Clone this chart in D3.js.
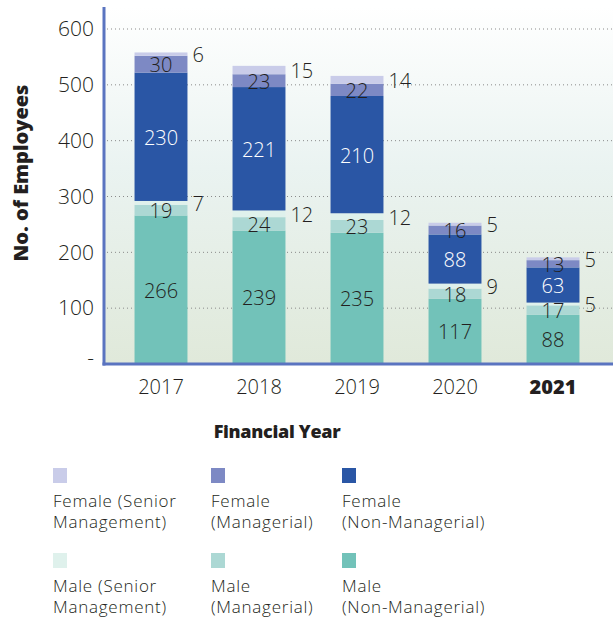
<!DOCTYPE html>
<html>
<head>
<meta charset="utf-8">
<script src="https://cdn.jsdelivr.net/npm/d3@7"></script>
<style>
  body { margin: 0; background: #fff; }
  text { font-family: "Open Sans", sans-serif; fill: #231f20; }
</style>
</head>
<body>
<script>
var years = ["2017", "2018", "2019", "2020", "2021"];
var maleNonManagerial = [266, 239, 235, 117, 88];
var maleManagerial = [19, 24, 23, 18, 17];
var maleSenior = [7, 12, 12, 9, 5];
var femaleNonManagerial = [230, 221, 210, 88, 63];
var femaleManagerial = [30, 23, 22, 16, 13];
var femaleSenior = [6, 15, 14, 5, 5];
var yTicks = [0, 100, 200, 300, 400, 500, 600];

// bottom to top
var series = [
  {key: "mnm", name: ["Male", "(Non-Managerial)"], values: maleNonManagerial, color: "#72c2b9", label: "in"},
  {key: "mm", name: ["Male", "(Managerial)"], values: maleManagerial, color: "#acd8d4", label: "in"},
  {key: "ms", name: ["Male (Senior", "Management)"], values: maleSenior, color: "#dff1ec", label: "out"},
  {key: "fnm", name: ["Female", "(Non-Managerial)"], values: femaleNonManagerial, color: "#2a56a5", label: "in", white: true},
  {key: "fm", name: ["Female", "(Managerial)"], values: femaleManagerial, color: "#7d89c4", label: "in"},
  {key: "fs", name: ["Female (Senior", "Management)"], values: femaleSenior, color: "#c9cce9", label: "out"}
];

var W = 613, H = 619;
var plot = {left: 104, right: 613, top: 7, bottom: 364};

var rows = years.map(function(y, i) {
  var r = {year: y};
  series.forEach(function(s) { r[s.key] = s.values[i]; });
  return r;
});

var stacked = d3.stack().keys(series.map(function(s) { return s.key; }))(rows);

var x = d3.scaleBand().domain(years).range([112, 602]).paddingInner(0.46).paddingOuter(0.23);
var y = d3.scaleLinear().domain([0, 600]).range([plot.bottom, 29]);

var svg = d3.select("body").append("svg")
  .attr("width", W)
  .attr("height", H);

var grad = svg.append("defs").append("linearGradient")
  .attr("id", "bg")
  .attr("x1", 0).attr("y1", 0).attr("x2", 0).attr("y2", 1);
grad.append("stop").attr("offset", "0%").attr("stop-color", "#ffffff");
grad.append("stop").attr("offset", "45%").attr("stop-color", "#eaf3f1");
grad.append("stop").attr("offset", "100%").attr("stop-color", "#e0e9da");

svg.append("rect")
  .attr("x", plot.left)
  .attr("y", plot.top)
  .attr("width", plot.right - plot.left)
  .attr("height", plot.bottom - plot.top)
  .attr("fill", "url(#bg)");

// dotted gridlines
svg.append("g")
  .selectAll("line")
  .data(yTicks.slice(1))
  .join("line")
  .attr("x1", plot.left + 3)
  .attr("x2", plot.right)
  .attr("y1", function(d) { return y(d); })
  .attr("y2", function(d) { return y(d); })
  .attr("stroke", "#8a8a8a")
  .attr("stroke-width", 1)
  .attr("stroke-dasharray", "1,3");

// bars
var layer = svg.append("g")
  .selectAll("g")
  .data(stacked)
  .join("g")
  .attr("fill", function(d, i) { return series[i].color; });

layer.selectAll("rect")
  .data(function(d) { return d; })
  .join("rect")
  .attr("x", function(d) { return x(d.data.year); })
  .attr("width", x.bandwidth())
  .attr("y", function(d) { return y(d[1]); })
  .attr("height", function(d) { return y(d[0]) - y(d[1]); });

// value labels
stacked.forEach(function(st, i) {
  var s = series[i];
  svg.append("g")
    .selectAll("text")
    .data(st)
    .join("text")
    .attr("x", function(d) {
      return s.label === "in" ? x(d.data.year) + x.bandwidth() / 2 : x(d.data.year) + x.bandwidth() + 5;
    })
    .attr("y", function(d) { return y((d[0] + d[1]) / 2); })
    .attr("dy", "0.4em")
    .attr("text-anchor", s.label === "in" ? "middle" : "start")
    .style("font-size", "20px")
    .style("font-weight", 300)
    .style("fill", s.white ? "#ffffff" : "#231f20")
    .text(function(d) { return d[1] - d[0]; });
});

// axes
var yAxis = d3.axisLeft(y)
  .tickValues(yTicks)
  .tickSize(0)
  .tickPadding(10)
  .tickFormat(function(d) { return d === 0 ? "-" : d; });

var gy = svg.append("g")
  .attr("transform", "translate(" + plot.left + ",0)")
  .call(yAxis);
gy.select(".domain").remove();
gy.selectAll("text")
  .style("font-size", "21px")
  .style("font-weight", 300)
  .style("font-family", "'Open Sans', sans-serif")
  .attr("fill", "#231f20");
gy.selectAll(".tick")
  .filter(function(d) { return d === 0; })
  .select("text")
  .attr("dy", "0em");

var xAxis = d3.axisBottom(x).tickSize(0).tickPadding(16);
var gx = svg.append("g")
  .attr("transform", "translate(0," + plot.bottom + ")")
  .call(xAxis);
gx.select(".domain").remove();
gx.selectAll("text")
  .style("font-size", "20px")
  .style("font-family", "'Open Sans', sans-serif")
  .attr("fill", "#231f20")
  .style("font-weight", function(d) { return d === "2021" ? 800 : 300; });

// axis lines
svg.append("line")
  .attr("x1", plot.left).attr("x2", plot.left)
  .attr("y1", plot.top).attr("y2", plot.bottom + 1.5)
  .attr("stroke", "#5a74c0").attr("stroke-width", 3);
svg.append("line")
  .attr("x1", plot.left - 1.5).attr("x2", plot.right)
  .attr("y1", plot.bottom).attr("y2", plot.bottom)
  .attr("stroke", "#5a74c0").attr("stroke-width", 3);

// axis titles
svg.append("text")
  .attr("transform", "translate(28,173) rotate(-90)")
  .attr("text-anchor", "middle")
  .style("font-size", "20px")
  .style("font-weight", 800)
  .text("No. of Employees");

svg.append("text")
  .attr("x", 277)
  .attr("y", 438)
  .attr("text-anchor", "middle")
  .style("font-size", "18px")
  .style("font-weight", 800)
  .style("letter-spacing", "-0.3px")
  .text("Financial Year");

// legend: female row on top, male row below
var legendOrder = ["fs", "fm", "fnm", "ms", "mm", "mnm"];
var colX = [53, 211, 342];
var rowY = [468, 553];
var legend = svg.append("g")
  .selectAll("g")
  .data(legendOrder.map(function(k) { return series.find(function(s) { return s.key === k; }); }))
  .join("g")
  .attr("transform", function(d, i) {
    return "translate(" + colX[i % 3] + "," + rowY[Math.floor(i / 3)] + ")";
  });

legend.append("rect")
  .attr("width", 14)
  .attr("height", 15)
  .attr("fill", function(d) { return d.color; });

legend.append("text")
  .attr("y", 39)
  .style("font-size", "17px")
  .style("font-weight", 300)
  .style("letter-spacing", "0.75px")
  .selectAll("tspan")
  .data(function(d) { return d.name; })
  .join("tspan")
  .attr("x", 0)
  .attr("dy", function(d, i) { return i === 0 ? 0 : 21; })
  .text(function(d) { return d; });
</script>
</body>
</html>
